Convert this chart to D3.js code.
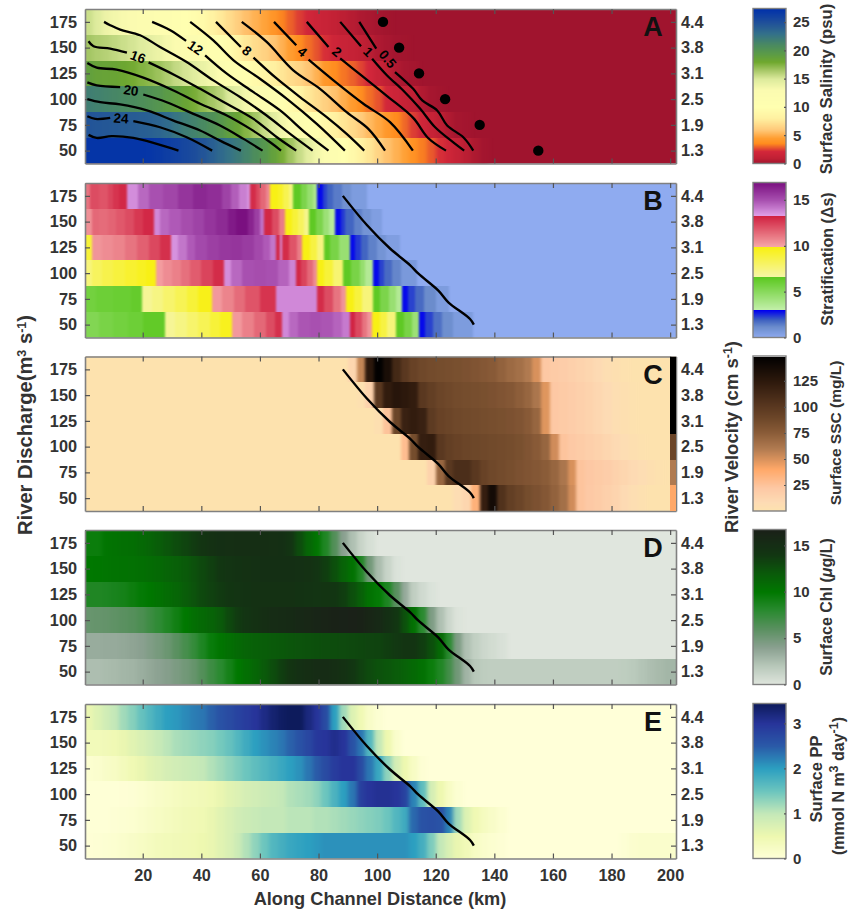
<!doctype html>
<html lang="en">
<head>
<meta charset="UTF-8">
<title>Along channel sections</title>
<script src="https://cdn.jsdelivr.net/npm/d3@7"></script>
<style>
    html, body { margin: 0; background: #fff; }
    text { font-family: "Liberation Sans", Arial, sans-serif; font-weight: 700; fill: #333; }
    .axis path { stroke: #808080; stroke-width: 1.6; fill: none; }
    .axis line { stroke: #555; stroke-width: 1.2; }
    .axis text { font-size: 16.3px; }
    .bar .axis text { font-size: 15px; }
</style>
</head>
<body>
<script>
    var width = 856;
    var height = 910;

    var discharge = [175, 150, 125, 100, 75, 50];
    var velocityLabels = ["4.4", "3.8", "3.1", "2.5", "1.9", "1.3"];
    var distanceTicks = [20, 40, 60, 80, 100, 120, 140, 160, 180, 200];

    // left edge (km) of each model cell for panels A, C, D, E, last cell ends at 202
    var gridKm = [0.3, 3, 6, 9, 12, 15, 18, 21, 24, 27, 30, 33, 36, 39, 42, 45, 48, 51, 54, 57, 60, 63, 66, 69, 72, 75,
        78, 81, 84, 87, 90, 93, 96, 99, 102, 105, 108, 111, 114, 117, 120, 123, 126, 129, 132, 135, 138, 141, 144, 147,
        150, 153, 156, 159, 162, 165, 168, 171, 174, 177, 180, 183, 186, 189, 192, 195, 198, 201];

    // A: surface salinity
    var sal175 = [15.5, 14.8, 13.9, 13.5, 13.2, 12.9, 12.6, 12.1, 11.6, 11.2, 10.8, 10.2, 9.7, 9.3, 8.4, 7.7, 7, 6.3, 5.7, 5.2,
        4.7, 4.1, 3.5, 3, 2.5, 2, 1.7, 1.5, 1.2, 0.9, 0.7, 0.45, 0.3, 0.15, 0.05];
    var sal150 = [16.6, 16.3, 16.1, 15.8, 15.5, 15.2, 14.8, 14.4, 14, 13.4, 13, 12.5, 12, 11.5, 11, 10.4, 9.5, 8.5, 7.6, 7,
        6.5, 5.9, 5.2, 4.5, 3.7, 3.2, 2.8, 2.3, 1.8, 1.5, 1.3, 1.05, 0.8, 0.45, 0.25, 0.1, 0.05];
    var sal125 = [18.9, 18.6, 18.5, 18.4, 18.2, 17.9, 17.5, 17.2, 16.8, 16.3, 15.7, 15.2, 14.7, 14.1, 13.5, 12.6, 11.8, 10.9, 9.9, 9.3,
        8.7, 8.1, 7.5, 7, 6.6, 5.9, 5.2, 4.2, 3.7, 3.3, 3, 2.6, 2.1, 1.5, 1, 0.5, 0.25, 0.15];
    var sal100 = [21.9, 21.7, 21.5, 21.3, 21.1, 20.9, 20.6, 20.3, 20, 19.4, 19, 18.4, 17.8, 17.2, 16.6, 16, 15, 14.4, 13.5, 12.8,
        12, 11.2, 10.4, 9.5, 8.6, 7.6, 7, 6.4, 5.8, 5.1, 4.4, 3.7, 3.2, 2.8, 2.1, 1.7, 1.3, 1, 0.5, 0.2, 0.05];
    var sal75 = [24.7, 24.6, 24.5, 24.4, 24.3, 24.2, 24.1, 24, 23.7, 23.3, 22.6, 22, 21.6, 21.1, 20.5, 19.9, 19, 18.4, 17.4, 16.6,
        15.6, 14.6, 13.6, 12.6, 11.7, 10.8, 9.9, 9.1, 8.2, 7.5, 6.9, 6.2, 5.5, 4.9, 4.2, 3.6, 3.1, 2.5, 1.9, 1.4,
        0.9, 0.5, 0.2, 0.1];
    var sal50 = [27, 27, 27, 27, 27, 27, 27, 26.9, 26.7, 26.3, 26, 25.6, 25.2, 24.7, 24.1, 23.4, 22.8, 22.2, 21.5, 20.7,
        19.9, 18.8, 17.8, 16.7, 15.6, 14.5, 13.5, 12.3, 11.3, 10.2, 9.2, 8.3, 7.5, 6.6, 5.8, 5.2, 4.6, 3.9, 3.4, 2.9,
        2.3, 1.8, 1.3, 0.8, 0.4, 0.1];

    // B: stratification, cells follow the visible blocks of each row
    var stratEdges175 = [0.3, 2, 5, 8, 10, 12, 14.6, 18.5, 22, 27, 32, 37, 42, 47, 50, 53, 55.5, 56.7, 58.5, 60, 62, 63.5, 66, 68, 70, 71.4, 74, 76, 78, 79.4, 81.5, 83, 85, 88, 91, 96.5];
    var strat175 = [11.2, 12.2, 12, 12.4, 12.8, 13.1, 13.7, 14.5, 15, 15.3, 15.8, 16.2, 16, 15.4, 14.7, 14, 13.6, 13, 12.3, 11.5, 10.7, 9.8, 9.4, 8.5, 7.5, 6.5, 5.5, 4.6, 3.8, 2.9, 2.3, 1.9, 1.5, 1, 0.6];
    var stratEdges150 = [0.3, 2.6, 5, 8, 11, 14, 17, 20, 23.7, 26, 29, 33, 37, 41, 45, 49, 52, 56, 58, 60, 61.4, 64, 66.5, 68.6, 71, 73, 75, 76.6, 79, 81.5, 83.5, 85.7, 87.5, 89, 92, 95, 98, 101.6];
    var strat150 = [10.5, 11.5, 11.4, 11.6, 11.9, 12.2, 12.7, 13.1, 13.8, 14.5, 14.8, 15.1, 15.4, 15.8, 16.1, 16.6, 16.9, 16.3, 15.5, 14.3, 13.1, 12.2, 11, 9.8, 9, 8.2, 7.2, 6.5, 5.5, 4.4, 3.5, 2.9, 2.4, 1.9, 1.4, 0.9, 0.5];
    var stratEdges125 = [0.3, 2.6, 6, 10, 14, 18, 22, 26, 29.6, 32, 35, 38, 42, 46, 50, 54, 58, 61, 63.5, 65.5, 66.7, 67.5, 70, 72.5, 74.5, 77, 79.5, 81.7, 84, 87, 90.6, 92.5, 94.5, 97, 100, 103, 107.5];
    var strat125 = [9, 10.4, 10.6, 10.8, 11.2, 11.7, 12.3, 12.9, 13.6, 14.2, 14.8, 15.2, 15.5, 15.7, 15.8, 15.6, 15.2, 14.8, 14.2, 13.1, 13.6, 13, 12, 11, 9.8, 8.8, 7.5, 6.5, 5.6, 4.5, 2.9, 2.4, 1.9, 1.4, 0.9, 0.5];
    var stratEdges100 = [0.3, 2.6, 6, 10, 14, 18, 21, 24.6, 27, 30, 33, 36, 40, 44, 47.6, 50, 54, 58, 62, 66, 70, 72.4, 74, 76, 78, 79.4, 82, 85, 88.5, 91, 94, 96, 98.5, 100.5, 102.5, 105, 108, 113.5];
    var strat100 = [7.6, 8.2, 8.6, 8.9, 9.2, 9.5, 9.8, 10.2, 10.6, 10.9, 11.3, 11.8, 12.4, 13, 13.7, 14.5, 15, 15.1, 15, 14.6, 13.9, 13.1, 12.4, 11.5, 10.6, 9.8, 9, 7.8, 6.5, 5.6, 4.6, 3.6, 2.9, 2.3, 1.8, 1.3, 0.7];
    var stratEdges75 = [0.3, 4, 10, 16, 19.7, 23, 27, 31, 35, 39, 43.6, 47, 51, 55, 60, 65.5, 79.4, 82, 85, 87.5, 89.4, 92, 95, 98.5, 101, 104, 106.5, 108.4, 110.5, 113, 116, 120, 124.3];
    var strat75 = [5.8, 6, 6.1, 6.3, 7, 7.4, 7.9, 8.4, 9, 9.7, 10.3, 10.8, 11.4, 12, 12.8, 13.8, 13, 12.2, 11.2, 10.4, 9.8, 8.9, 7.6, 6.5, 5.5, 4.5, 3.6, 2.9, 2.3, 1.8, 1.2, 0.6];
    var stratEdges50 = [0.3, 5, 10, 15, 20, 27.6, 31, 35, 39, 43, 46.5, 50.4, 54, 58, 62, 65, 67.5, 70, 73, 77, 81, 85, 88, 90.6, 92.5, 95, 96.5, 98.4, 101, 103.5, 106.4, 109, 112, 114.4, 116.5, 119, 122, 126, 132.5];
    var strat50 = [5.3, 5.6, 5.8, 6, 6.4, 7, 7.4, 7.9, 8.4, 9, 9.6, 10.3, 10.9, 11.5, 12.2, 12.9, 13.8, 14.5, 14.9, 15, 14.9, 14.6, 14.1, 13.2, 12.3, 11.2, 10.4, 9.8, 8.8, 7.6, 6.5, 5.6, 4.4, 2.9, 2.3, 1.7, 1.1, 0.6];

    // C: surface SSC
    var ssc175 = [0, 0, 0, 0, 0, 0, 0, 0, 0, 0, 0, 0, 0, 0, 0, 0, 0, 0, 0, 0, 0, 0, 0, 0, 0, 0, 0, 0, 0, 0,
        12, 55, 125, 148, 135, 112, 100, 92, 88, 86, 85, 84, 83, 82, 80, 78, 76, 72, 68, 65, 60, 50, 22, 20, 18, 16, 14, 12, 9, 5, 3, 1];
    var ssc150 = [0, 0, 0, 0, 0, 0, 0, 0, 0, 0, 0, 0, 0, 0, 0, 0, 0, 0, 0, 0, 0, 0, 0, 0, 0, 0, 0, 0, 0, 0, 0,
        2, 15, 100, 122, 128, 125, 122, 100, 95, 90, 88, 86, 85, 84, 83, 82, 80, 78, 74, 70, 62, 48, 22, 20, 18, 16, 14, 11, 8, 5, 3, 1];
    var ssc125 = [0, 0, 0, 0, 0, 0, 0, 0, 0, 0, 0, 0, 0, 0, 0, 0, 0, 0, 0, 0, 0, 0, 0, 0, 0, 0, 0, 0, 0, 0, 0, 0, 0,
        3, 25, 90, 118, 122, 118, 98, 92, 90, 88, 87, 86, 85, 84, 83, 82, 80, 76, 70, 48, 22, 20, 18, 16, 14, 11, 8, 5, 3, 1];
    var ssc100 = [0, 0, 0, 0, 0, 0, 0, 0, 0, 0, 0, 0, 0, 0, 0, 0, 0, 0, 0, 0, 0, 0, 0, 0, 0, 0, 0, 0, 0, 0, 0, 0, 0, 0, 0, 0,
        28, 85, 120, 122, 100, 95, 92, 90, 89, 88, 87, 86, 85, 83, 80, 76, 70, 52, 24, 21, 19, 17, 15, 12, 9, 6, 3, 1];
    var ssc75 = [0, 0, 0, 0, 0, 0, 0, 0, 0, 0, 0, 0, 0, 0, 0, 0, 0, 0, 0, 0, 0, 0, 0, 0, 0, 0, 0, 0, 0, 0, 0, 0, 0, 0, 0, 0, 0, 0, 0,
        15, 70, 100, 108, 108, 100, 92, 88, 86, 84, 82, 80, 78, 75, 70, 62, 50, 24, 22, 20, 18, 15, 12, 9, 6, 3, 1];
    var ssc50 = [0, 0, 0, 0, 0, 0, 0, 0, 0, 0, 0, 0, 0, 0, 0, 0, 0, 0, 0, 0, 0, 0, 0, 0, 0, 0, 0, 0, 0, 0, 0, 0, 0, 0, 0, 0, 0, 0, 0, 0, 0, 0,
        6, 12, 35, 120, 138, 105, 95, 90, 85, 82, 78, 72, 65, 52, 24, 21, 19, 16, 13, 9, 5, 2];
    var sscLastCell = [149, 149, 149, 90, 60, 40];

    // D: surface chlorophyll
    var chl175 = [9.5, 9.5, 10.2, 10.4, 10.6, 10.7, 11, 11.3, 11.8, 12.3, 12.8, 13.2, 13.7, 14.2, 14.6, 14.8, 14.9, 15, 15, 15,
        15, 14.9, 14.8, 14.3, 12.8, 11.2, 10.2, 8.5, 6.3, 4, 2.4, 1.2, 0.5];
    var chl150 = [10, 10.1, 10.2, 10.3, 10.4, 10.5, 10.6, 10.8, 11, 11.3, 11.6, 12, 12.5, 13, 13.5, 14, 14.3, 14.5, 14.6, 14.7,
        14.8, 14.8, 14.8, 14.8, 14.7, 14.6, 14.3, 13.6, 12.6, 11.4, 10.4, 8.5, 5, 2.6, 1.2, 0.3];
    var chl125 = [8.5, 8.5, 8.6, 8.8, 9, 9.4, 9.8, 10.1, 10.4, 10.8, 11.2, 11.8, 12.4, 13, 13.4, 13.8, 14.1, 14.3, 14.5, 14.6,
        14.6, 14.6, 14.6, 14.6, 14.5, 14.4, 14.3, 14.2, 14.1, 13.6, 12.6, 11.6, 10.4, 9.8, 8.6, 6, 3.5, 1.6, 0.8, 0.3];
    var chl100 = [5.4, 5.5, 5.6, 5.8, 6, 6.2, 6.6, 7.2, 7.8, 8.5, 9.2, 10, 10.6, 11, 11.4, 12, 13, 13.8, 14.3, 14.6,
        15, 15.2, 15.3, 15.5, 15.7, 15.9, 16.1, 16.2, 16.4, 16.5, 16.6, 16.4, 16, 15.6, 14.8, 14, 12.5, 10.5, 8, 4.5,
        2.4, 1, 0.2];
    var chl75 = [3.4, 3.4, 3.5, 3.5, 3.6, 3.8, 4, 4.4, 4.8, 5.3, 6, 6.8, 7.6, 8.6, 9.6, 10.2, 10.6, 11, 11.3, 11.6,
        11.8, 12, 12.1, 12.3, 12.4, 12.5, 12.6, 12.7, 12.8, 12.9, 13, 13.1, 13.2, 13.3, 13.6, 13.9, 14.2, 14.2, 13.6, 12.6,
        11, 8, 4.5, 2.4, 1.5, 1, 0.7, 0.4];
    var chl50 = [2.5, 2.5, 2.6, 2.7, 2.9, 3, 3.3, 3.6, 3.9, 4.2, 4.6, 5, 5.5, 6.3, 7.2, 8, 9, 10, 10.6, 11.2,
        12, 12.8, 13.6, 14.2, 14.7, 15, 15.2, 15.2, 15, 14.6, 14, 13.4, 12.9, 12.5, 12.2, 11.9, 11.5, 11, 10.5, 9.5,
        8.5, 7, 5, 3, 2, 1.7, 1.6, 1.6, 1.6, 1.6, 1.6, 1.6, 1.6, 1.6, 1.6, 1.6, 1.6, 1.6, 1.6, 1.6,
        1.6, 1.7, 1.9, 2.2, 2.5, 2.7, 2.9, 2.9];

    // E: surface primary production
    var pp175 = [0.55, 0.7, 0.85, 1, 1.2, 1.35, 1.55, 1.7, 1.85, 2, 2.05, 2.15, 2.25, 2.3, 2.45, 2.6, 2.7, 2.8, 2.9, 3,
        3.15, 3.3, 3.4, 3.44, 3.44, 3.2, 3, 2.7, 2, 1.2, 0.7, 0.45, 0.2, 0.08];
    var pp150 = [0.38, 0.38, 0.4, 0.45, 0.55, 0.65, 0.75, 0.85, 0.95, 1.05, 1.15, 1.2, 1.25, 1.3, 1.35, 1.45, 1.55, 1.7, 1.85, 2,
        2.1, 2.2, 2.3, 2.45, 2.6, 2.75, 2.95, 3, 3.1, 3, 2.6, 2.3, 1.7, 1, 0.5, 0.15];
    var pp125 = [0.1, 0.12, 0.2, 0.25, 0.35, 0.45, 0.55, 0.65, 0.72, 0.8, 0.85, 0.9, 0.95, 1, 1.1, 1.2, 1.3, 1.4, 1.5, 1.6,
        1.7, 1.8, 1.9, 2, 2.1, 2.3, 2.5, 2.7, 2.9, 3, 3, 2.7, 2.3, 1.9, 1.3, 0.8, 0.5, 0.25, 0.05];
    var pp100 = [0.03, 0.03, 0.03, 0.03, 0.04, 0.05, 0.1, 0.15, 0.2, 0.25, 0.3, 0.35, 0.38, 0.4, 0.45, 0.55, 0.65, 0.72, 0.8, 0.85,
        0.9, 0.95, 1, 1.1, 1.15, 1.2, 1.3, 1.5, 1.75, 2, 2.3, 2.85, 3, 3.05, 3.05, 3, 2.8, 2.2, 1.6, 0.8,
        0.5, 0.25, 0.08];
    var pp75 = [0.03, 0.03, 0.03, 0.05, 0.08, 0.1, 0.15, 0.2, 0.25, 0.3, 0.35, 0.4, 0.42, 0.45, 0.55, 0.65, 0.75, 0.85, 0.9, 0.95,
        1, 1, 1, 1.05, 1.05, 1.05, 1.1, 1.1, 1.15, 1.2, 1.25, 1.3, 1.35, 1.4, 1.5, 1.7, 1.85, 2.4, 2.6, 2.65,
        2.6, 2.2, 1.2, 0.7, 0.45, 0.3, 0.2, 0.1];
    var pp50 = [0.04, 0.05, 0.08, 0.1, 0.15, 0.2, 0.25, 0.3, 0.35, 0.38, 0.4, 0.42, 0.45, 0.5, 0.55, 0.65, 0.75, 0.9, 1.1, 1.3,
        1.5, 1.7, 1.8, 1.9, 1.95, 2, 2.05, 2.1, 2.1, 2.1, 2.1, 2.1, 2.1, 2.1, 2.1, 2.1, 2.1, 2, 1.8, 1.4,
        1, 0.75, 0.55, 0.4, 0.25, 0.15, 0.1, 0.05, 0, 0, 0, 0, 0, 0, 0, 0, 0, 0, 0, 0,
        0, 0.05, 0.12, 0.15, 0.15, 0.15, 0.15, 0.15];

    // salinity contours, [km, discharge] with null where the label breaks the line
    var c26 = [[1.5, 65.3], [4.3, 62.3], [9.4, 64], [16.8, 62.3], [24.8, 56.5], [32.2, 50]];
    var c24 = [[1.1, 83.4], [3.8, 80.8], [8.9, 81.8], null, [16.8, 78.6], [25.9, 72.7], [35, 63], [43.7, 50]];
    var c22 = [[1.1, 100], [5.5, 97], [12.3, 94.8], [21.4, 89], [30.5, 79.2], [39.6, 69.5], [46.4, 59.7], [53.5, 50]];
    var c20 = [[1.1, 116.2], [4.3, 113.3], [12.3, 111.7], null, [20.2, 104.5], [28.2, 97], [37.3, 85.7], [46.4, 74.4], [54.4, 61.4], [60.9, 50]];
    var c18 = [[1.1, 135], [4.3, 130.5], [11.1, 128.6], [20.2, 120.8], [30.5, 108.4], [39.6, 95.5], [48.7, 84.1], [56.7, 71.1], [63.5, 58.1], [67.2, 50]];
    var c16 = [[1.5, 156.2], [3.2, 151.3], [8.9, 149], [14.6, 145.1], null, [22, 135.7], [30.5, 124], [39.6, 110], [48.7, 95.5], [57.8, 80.8], [65.8, 63], [72.4, 50]];
    var c14 = [[6.8, 175], [8.9, 171.8], [12.3, 167.5], [19.1, 162], [25.9, 150.6], [35, 136], [44.1, 118.2], [53.2, 102], [62.3, 84.1], [70.3, 66.2], [78, 50]];
    var c12 = [[23.2, 175], [29.4, 166.9], [34.8, 156.5], null, [41.3, 142.5], [48.7, 124.7], [57.8, 106.8], [66.9, 89], [76, 66.2], [83.4, 50]];
    var c10 = [[36.2, 175], [44.1, 157], [51, 137.7], [60, 119.8], [69.2, 100.3], [79.4, 76], [89, 50]];
    var c8 = [[45, 175], [53.5, 150.6], null, [57.8, 140.3], [65.8, 119.8], [73.7, 102], [82.8, 82.5], [89.6, 66.2], [95.6, 50]];
    var c6 = [[53.8, 175], [62.3, 155.5], [71.4, 128], [80.5, 110], [89.6, 87.3], [97, 71.1], [102.7, 50]];
    var c4 = [[64.8, 175], [72.4, 152.3], null, [76.6, 138.3], [85.1, 118.2], [95.3, 95.5], [104.4, 77.6], [112.2, 50]];
    var c2 = [[76, 175], [83.4, 150.6], null, [87.4, 139.5], [94.2, 124], [103.4, 102.9], [112.3, 81.8], [117.4, 62.3], [123.5, 50]];
    var c1 = [[87.4, 175], [94.5, 151.3], null, [98.3, 139.3], [103.4, 123], [108.9, 108.4], [114.7, 90.6], [119.8, 72.7], [126, 58], [129.7, 50]];
    var c05 = [[93.9, 175], [99.7, 149], null, [106.1, 126.3], [112.3, 110], [115.4, 98.7], [120.5, 89], [123.9, 74.4], [129.4, 63], [132.8, 50]];

    // contour labels: km, discharge, text, rotation
    var contourLabels = [[12.6, 81.5, "24", 4], [16, 108.6, "20", 8], [18.4, 141, "16", 20], [38, 150, "12", 35],
        [55.6, 147, "8", 40], [74.5, 146, "4", 40], [86.3, 146, "2", 40], [97, 146, "1", 45], [103.6, 139, "0.5", 50]];

    var dotKm = [102, 107.5, 114.3, 123.2, 135, 155];
    var saltFrontLine = [[88.3, 175], [96.5, 146.7], [104.4, 123.9], [111.3, 107.6], [114.1, 99.4], [120.9, 83], [124.3, 71.7], [131.7, 55.5], [133, 50]];

    var svg = d3.select("body").append("svg").attr("width", width).attr("height", height);
    var defs = svg.append("defs");

    var x_scale = d3.scaleLinear().domain([0.3, 202]).range([85, 676]);
    var rowHalf = 12.5;

    var salColor = d3.scaleLinear()
        .domain([0, 1, 2.2, 3.6, 4.5, 6, 8, 10, 13, 15, 16.5, 18, 19.5, 21, 23, 25, 27.4])
        .range(["#a0142e", "#c02034", "#d3273a", "#ff8c1e", "#ff9d30", "#ffc878", "#fff0a0", "#ffffb0", "#fbfbb0", "#dcea9c", "#a8c868", "#6fa82e", "#5a9a48", "#4a8a60", "#33708a", "#1f4f9a", "#0030aa"]);
    var stratColor = d3.scaleLinear()
        .domain([0, 1.2, 2, 3, 3, 6.6, 6.6, 9.9, 9.9, 13.3, 13.3, 15, 16.9])
        .range(["#8fabf0", "#6b8ccc", "#3c5fc0", "#0000f0", "#c4f0ac", "#5cc820", "#f6f6a8", "#f8f010", "#f6a8a8", "#d02040", "#e0a0e8", "#a850b0", "#7a1080"]);
    var sscColor = d3.scaleLinear()
        .domain([0, 8, 22, 40, 60, 75, 90, 100, 125, 149])
        .range(["#fde2ae", "#fddbb4", "#fdc8a4", "#ffa868", "#b07a50", "#8a5c38", "#6b4528", "#5a3820", "#2c180c", "#000000"]);
    var chlColor = d3.scaleLinear()
        .domain([0, 2, 4, 6, 8, 10, 12, 14, 16.7])
        .range(["#e0e6de", "#b8c8ba", "#8aa090", "#5a9060", "#2a8a30", "#007800", "#0a5a0a", "#123612", "#1a2018"]);
    var ppColor = d3.scaleLinear()
        .domain([0, 0.5, 1, 1.5, 2, 2.5, 3, 3.44])
        .range(["#ffffd8", "#eef8b0", "#c4e8b8", "#6cc5be", "#2c9fc0", "#2a5aa8", "#27349a", "#0d1b5c"]);

    function gridRows(rows) {
        return rows.map(function (values) {
            return {edges: gridKm, values: values};
        });
    }

    var panels = [
        {letter: "A", top: 9, color: salColor, blur: 2.2, rows: gridRows([sal175, sal150, sal125, sal100, sal75, sal50]), barMax: 27.4, barTicks: [0, 5, 10, 15, 20, 25]},
        {letter: "B", top: 183, color: stratColor, blur: 1, rows: [
            {edges: stratEdges175, values: strat175}, {edges: stratEdges150, values: strat150}, {edges: stratEdges125, values: strat125},
            {edges: stratEdges100, values: strat100}, {edges: stratEdges75, values: strat75}, {edges: stratEdges50, values: strat50}],
            barMax: 16.9, barTicks: [0, 5, 10, 15]},
        {letter: "C", top: 356.5, color: sscColor, blur: 1.8, rows: gridRows([ssc175, ssc150, ssc125, ssc100, ssc75, ssc50]), barMax: 149, barTicks: [25, 50, 75, 100, 125]},
        {letter: "D", top: 530, color: chlColor, blur: 2.2, rows: gridRows([chl175, chl150, chl125, chl100, chl75, chl50]), barMax: 16.7, barTicks: [0, 5, 10, 15]},
        {letter: "E", top: 704, color: ppColor, blur: 2.2, rows: gridRows([pp175, pp150, pp125, pp100, pp75, pp50]), barMax: 3.44, barTicks: [0, 1, 2, 3]}
    ];

    var panelHeight = 154.5;

    panels.forEach(function (p) {
        var g = svg.append("g");
        var bottom = p.top + panelHeight;
        var y_scale = d3.scaleLinear().domain([37.5, 187.5]).range([bottom, p.top]);
        p.y = y_scale;

        // background takes the lowest colour, cells go on top
        g.append("rect")
            .attr("x", x_scale(0.3)).attr("y", p.top)
            .attr("width", x_scale(202) - x_scale(0.3)).attr("height", panelHeight)
            .attr("fill", p.color(0));

        defs.append("clipPath").attr("id", "clip" + p.letter)
            .append("rect")
            .attr("x", x_scale(0.3)).attr("y", p.top)
            .attr("width", x_scale(202) - x_scale(0.3)).attr("height", panelHeight);
        defs.append("filter").attr("id", "soft" + p.letter)
            .attr("x", "-5%").attr("width", "110%").attr("y", "0%").attr("height", "100%")
            .attr("color-interpolation-filters", "sRGB")
            .append("feGaussianBlur").attr("stdDeviation", p.blur + " 0");

        var cells = g.append("g").attr("clip-path", "url(#clip" + p.letter + ")")
            .append("g").attr("filter", "url(#soft" + p.letter + ")");

        p.rows.forEach(function (row, r) {
            var q = discharge[r];
            // first and last cell run past the frame so the soft edge stays outside the clip
            cells.append("g").attr("shape-rendering", "crispEdges").selectAll("rect")
                .data(row.values)
                .enter()
                .append("rect")
                .attr("x", function (d, i) { return x_scale(row.edges[i]) - (i === 0 ? 12 : 0); })
                .attr("width", function (d, i) {
                    var end = i + 1 < row.edges.length ? row.edges[i + 1] : 202;
                    var extra = (i === 0 ? 12 : 0) + (i + 1 === row.edges.length ? 12 : 0);
                    return x_scale(end) - x_scale(row.edges[i]) + extra + 0.5;
                })
                .attr("y", y_scale(q + rowHalf))
                .attr("height", y_scale(q - rowHalf) - y_scale(q + rowHalf))
                .attr("fill", function (d) { return p.color(d); });
        });

        p.frame = g.append("g");
        var isLast = p.letter === "E";
        p.frame.append("g").attr("class", "axis").attr("transform", "translate(0," + bottom + ")")
            .call(d3.axisBottom(x_scale).tickValues(distanceTicks).tickSize(-5).tickSizeOuter(0).tickPadding(11)
                .tickFormat(isLast ? d3.format("d") : ""));
        p.frame.append("g").attr("class", "axis").attr("transform", "translate(0," + p.top + ")")
            .call(d3.axisTop(x_scale).tickValues(distanceTicks).tickSize(-5).tickSizeOuter(0).tickFormat(""));
        p.frame.append("g").attr("class", "axis").attr("transform", "translate(" + x_scale(0.3) + ",0)")
            .call(d3.axisLeft(y_scale).tickValues(discharge).tickSize(-5).tickSizeOuter(0).tickPadding(8));
        p.frame.append("g").attr("class", "axis").attr("transform", "translate(" + x_scale(202) + ",0)")
            .call(d3.axisRight(y_scale).tickValues(discharge).tickSize(-5).tickSizeOuter(0).tickPadding(5)
                .tickFormat(function (d, i) { return velocityLabels[i]; }));

        g.append("text").text(p.letter)
            .attr("x", 653).attr("y", p.top + 27)
            .attr("text-anchor", "middle")
            .style("font-size", "27px").style("fill", "#111");

        // colour bar on the right
        var bar_scale = d3.scaleLinear().domain([0, p.barMax]).range([bottom, p.top - 0.5]);
        var bar = svg.append("g").attr("class", "bar");
        var barLevels = d3.range(0, 154);
        bar.append("g").attr("shape-rendering", "crispEdges").selectAll("rect")
            .data(barLevels)
            .enter()
            .append("rect")
            .attr("x", 753).attr("width", 33)
            .attr("y", function (d) { return bottom - d - 1.5; })
            .attr("height", 1.6)
            .attr("fill", function (d) { return p.color(bar_scale.invert(bottom - d - 0.5)); });
        bar.append("rect")
            .attr("x", 753).attr("y", p.top - 0.5).attr("width", 33).attr("height", panelHeight + 0.5)
            .attr("fill", "none").attr("stroke", "#808080").attr("stroke-width", 1.4);
        var barAxis = bar.append("g").attr("class", "axis").attr("transform", "translate(786,0)")
            .call(d3.axisRight(bar_scale).tickValues(p.barTicks).tickSize(-2).tickSizeOuter(0).tickPadding(7)
                .tickFormat(d3.format("d")));
        barAxis.select("path").remove();
    });

    // strip of high SSC at the far end of C
    svg.append("g").attr("shape-rendering", "crispEdges").selectAll("rect")
        .data(sscLastCell)
        .enter()
        .append("rect")
        .attr("x", x_scale(200))
        .attr("width", x_scale(202) - x_scale(200))
        .attr("y", function (d, i) { return panels[2].y(discharge[i] + rowHalf); })
        .attr("height", panels[2].y(0) - panels[2].y(rowHalf * 2))
        .attr("fill", function (d) { return sscColor(d); });

    function lineFor(y_scale) {
        return d3.line()
            .defined(function (d) { return d !== null; })
            .curve(d3.curveCatmullRom.alpha(0.5))
            .x(function (d) { return x_scale(d[0]); })
            .y(function (d) { return y_scale(d[1]); });
    }

    svg.append("g").selectAll("path")
        .data([c26, c24, c22, c20, c18, c16, c14, c12, c10, c8, c6, c4, c2, c1, c05])
        .enter()
        .append("path")
        .attr("d", lineFor(panels[0].y))
        .attr("fill", "none")
        .attr("stroke", "#000")
        .attr("stroke-width", 2.3);

    svg.append("g").selectAll("text")
        .data(contourLabels)
        .enter()
        .append("text")
        .text(function (d) { return d[2]; })
        .attr("text-anchor", "middle")
        .attr("dy", "0.35em")
        .attr("transform", function (d) {
            return "translate(" + x_scale(d[0]) + "," + panels[0].y(d[1]) + ") rotate(" + d[3] + ")";
        })
        .style("font-size", "13.5px")
        .style("fill", "#000");

    svg.append("g").selectAll("circle")
        .data(dotKm)
        .enter()
        .append("circle")
        .attr("cx", function (d) { return x_scale(d); })
        .attr("cy", function (d, i) { return panels[0].y(discharge[i]); })
        .attr("r", 5.2)
        .attr("fill", "#000");

    // same line in B to E
    panels.slice(1).forEach(function (p) {
        svg.append("path")
            .attr("d", lineFor(p.y)(saltFrontLine))
            .attr("fill", "none")
            .attr("stroke", "#000")
            .attr("stroke-width", 2.4);
    });

    // titles
    function rotatedText(x, y, size) {
        return svg.append("text")
            .attr("text-anchor", "middle")
            .attr("transform", "translate(" + x + "," + y + ") rotate(-90)")
            .style("font-size", size + "px");
    }
    function sup(node, str) {
        node.append("tspan").attr("dy", -6).style("font-size", "12.5px").text(str);
        return node;
    }
    function down(node, str) {
        node.append("tspan").attr("dy", 6).text(str);
    }

    var yLeft = rotatedText(32, 425, 20.2);
    yLeft.append("tspan").text("River Discharge(m");
    sup(yLeft, "3");
    down(yLeft, " s");
    sup(yLeft, "-1");
    down(yLeft, ")");

    var yRight = rotatedText(738, 437, 18.5);
    yRight.append("tspan").text("River Velocity (cm s");
    sup(yRight, "-1");
    down(yRight, ")");

    svg.append("text").text("Along Channel Distance (km)")
        .attr("x", 380).attr("y", 905)
        .attr("text-anchor", "middle")
        .style("font-size", "18.2px");

    rotatedText(832, 89, 16.7).text("Surface Salinity (psu)");
    rotatedText(833, 259, 16).text("Stratification (\u0394s)");
    rotatedText(841, 433, 15.5).text("Surface SSC (mg/L)");
    var chlTitle = rotatedText(832, 607, 16);
    chlTitle.append("tspan").text("Surface Chl (");
    chlTitle.append("tspan").style("font-style", "italic").text("\u03bc");
    chlTitle.append("tspan").text("g/L)");
    rotatedText(822, 779, 16.5).text("Surface PP");
    var ppTitle = rotatedText(844, 786, 16);
    ppTitle.append("tspan").text("(mmol N m");
    sup(ppTitle, "3");
    down(ppTitle, " day");
    sup(ppTitle, "-1");
    down(ppTitle, ")");
</script>
</body>
</html>
